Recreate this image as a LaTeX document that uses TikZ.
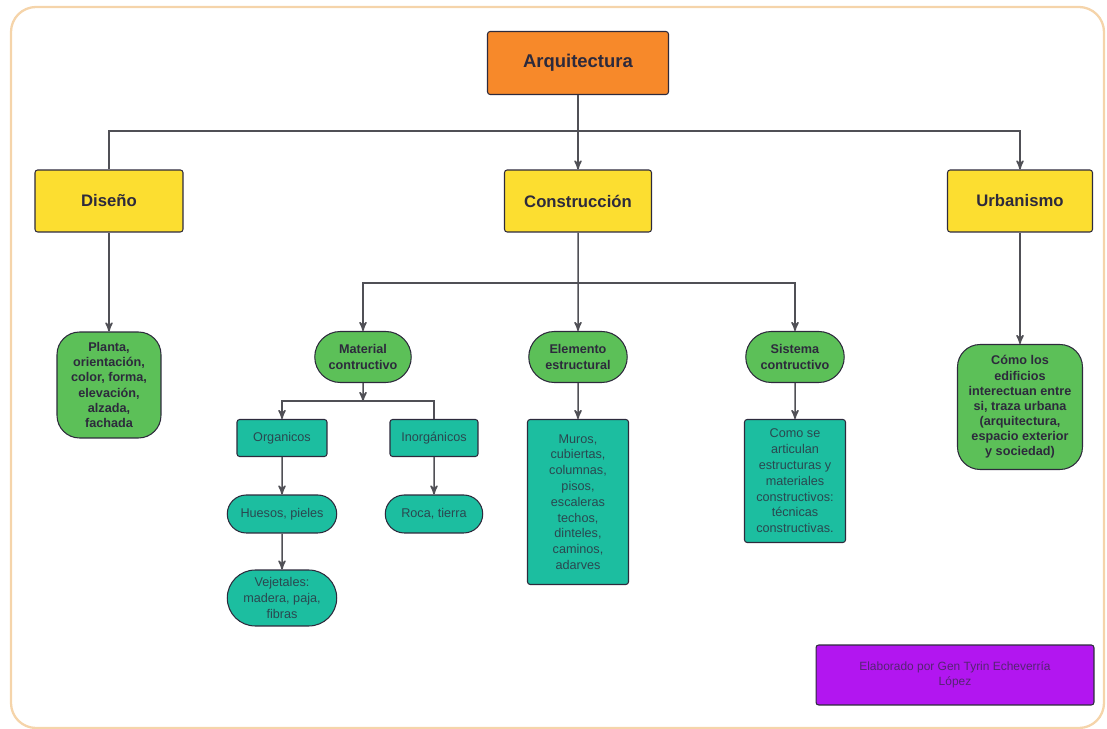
\documentclass[tikz,border=0pt]{standalone}
\usepackage{fontspec}
\setmainfont{Liberation Sans}
\usepackage{tikz}
\usetikzlibrary{arrows,positioning,shapes.misc}

\definecolor{naranja}{RGB}{247,137,42}
\definecolor{amarillo}{RGB}{252,222,48}
\definecolor{verde}{RGB}{92,192,88}
\definecolor{turquesa}{RGB}{28,190,160}
\definecolor{morado}{RGB}{178,22,240}
\definecolor{marco}{RGB}{245,212,170}
\definecolor{linea}{RGB}{80,80,86}
\definecolor{texto}{RGB}{45,42,60}

\begin{document}
\begin{tikzpicture}[x=0.02cm,y=-0.02cm,>=stealth',semithick]
\tikzstyle{n0} = [draw=texto,fill=naranja,rounded corners=1.5pt,minimum width=3.62cm,minimum height=1.26cm,text=texto,font=\fontsize{10.5}{12}\selectfont\bfseries]
\tikzstyle{n1} = [draw=texto,fill=amarillo,rounded corners=1.5pt,minimum width=2.94cm,minimum height=1.24cm,text=texto,font=\fontsize{9.5}{11}\selectfont\bfseries]
\tikzstyle{n2} = [draw=texto,fill=verde,rounded rectangle,minimum width=2.04cm,minimum height=1.02cm,align=center,inner sep=1pt,text=texto,font=\fontsize{7.2}{8.6}\selectfont\bfseries]
\tikzstyle{barril} = [draw=texto,fill=verde,rounded corners=0.45cm,align=center,inner sep=1pt,text=texto,font=\fontsize{7.2}{8.6}\selectfont\bfseries]
\tikzstyle{n3} = [draw=texto,fill=turquesa,rounded corners=1.5pt,align=center,inner sep=1pt,text=texto!80!turquesa,font=\fontsize{7.2}{9}\selectfont]
\tikzstyle{n3r} = [n3,rounded rectangle,rounded corners=0pt]
\tikzstyle{flecha} = [draw=linea,line width=0.85pt]
\useasboundingbox (0,0) rectangle (1107,729);
\draw[marco,line width=1.3pt,rounded corners=0.5cm] (11,7) rectangle (1104,728);

    % nivel 1
    \node[n0] (arq) at (578,63) {Arquitectura};
    \node[n1,minimum width=2.96cm] (diseno) at (109,201) {Diseño};
    \node[n1] (constr) at (578,201) {Construcción};
    \node[n1,minimum width=2.9cm] (urban) at (1020,201) {Urbanismo};
    \coordinate (top) at (578,131);
    % nivel 2
    \node[barril,minimum width=2.08cm,minimum height=2.12cm] (planta) at (109,385) {Planta,\\orientación,\\color, forma,\\elevación,\\alzada,\\fachada};
    \node[n2,minimum width=2cm] (material) at (363,357) {Material\\contructivo};
    \node[n2] (elemento) at (578,357) {Elemento\\estructural};
    \node[n2] (sistema) at (795,357) {Sistema\\contructivo};
    \node[barril,minimum width=2.5cm,minimum height=2.5cm] (comolos) at (1020,407) {Cómo los\\edificios\\interectuan entre\\si, traza urbana\\(arquitectura,\\espacio exterior\\y sociedad)};
    \coordinate (cruce) at (578,283);
    % nivel 3
    \node[n3,minimum width=1.8cm,minimum height=0.74cm] (organicos) at (282,438) {Organicos};
    \node[n3,minimum width=1.76cm,minimum height=0.74cm] (inorg) at (434,438) {Inorgánicos};
    \coordinate (mat) at (363,401);
    \node[n3r,minimum width=2.26cm,minimum height=0.76cm] (huesos) at (282,514) {Huesos, pieles};
    \node[n3r,minimum width=2.02cm,minimum height=0.76cm] (roca) at (434,514) {Roca, tierra};
    \node[n3r,minimum width=2.26cm,minimum height=1.12cm] (vejetales) at (282,598) {Vejetales:\\madera, paja,\\fibras};
    \node[n3,minimum width=2.02cm,minimum height=3.3cm] (muros) at (578,502) {Muros,\\cubiertas,\\columnas,\\pisos,\\escaleras\\techos,\\dinteles,\\caminos,\\adarves};
    \node[n3,minimum width=2.02cm,minimum height=2.46cm] (comose) at (795,481) {Como se\\articulan\\estructuras y\\materiales\\constructivos:\\técnicas\\constructivas.};
    \node[draw=texto,fill=morado,rounded corners=1.5pt,minimum width=5.56cm,minimum height=1.2cm,align=center,text=texto!70!morado,font=\fontsize{6.8}{8.2}\selectfont] (firma) at (955,675) {Elaborado por Gen Tyrin Echeverría\\López};

    \draw[flecha,->] (arq) -- (constr);
    \draw[flecha] (diseno.north) |- (top);
    \draw[flecha,->] (top) -| (urban.north);
    \draw[flecha,->] (diseno) -- (planta);
    \draw[flecha,->] (urban) -- (comolos);
    \draw[flecha,->] (constr) -- (elemento);
    \draw[flecha,->] (cruce) -| (material);
    \draw[flecha,->] (cruce) -| (sistema);
    \draw[flecha,->] (material) -- (mat);
    \draw[flecha,->] (mat) -| (organicos);
    \draw[flecha] (mat) -| (inorg);
    \draw[flecha,->] (organicos) -- (huesos);
    \draw[flecha,->] (inorg) -- (roca);
    \draw[flecha,->] (huesos) -- (vejetales);
    \draw[flecha,->] (elemento) -- (muros);
    \draw[flecha,->] (sistema) -- (comose);
\end{tikzpicture}
\end{document}
